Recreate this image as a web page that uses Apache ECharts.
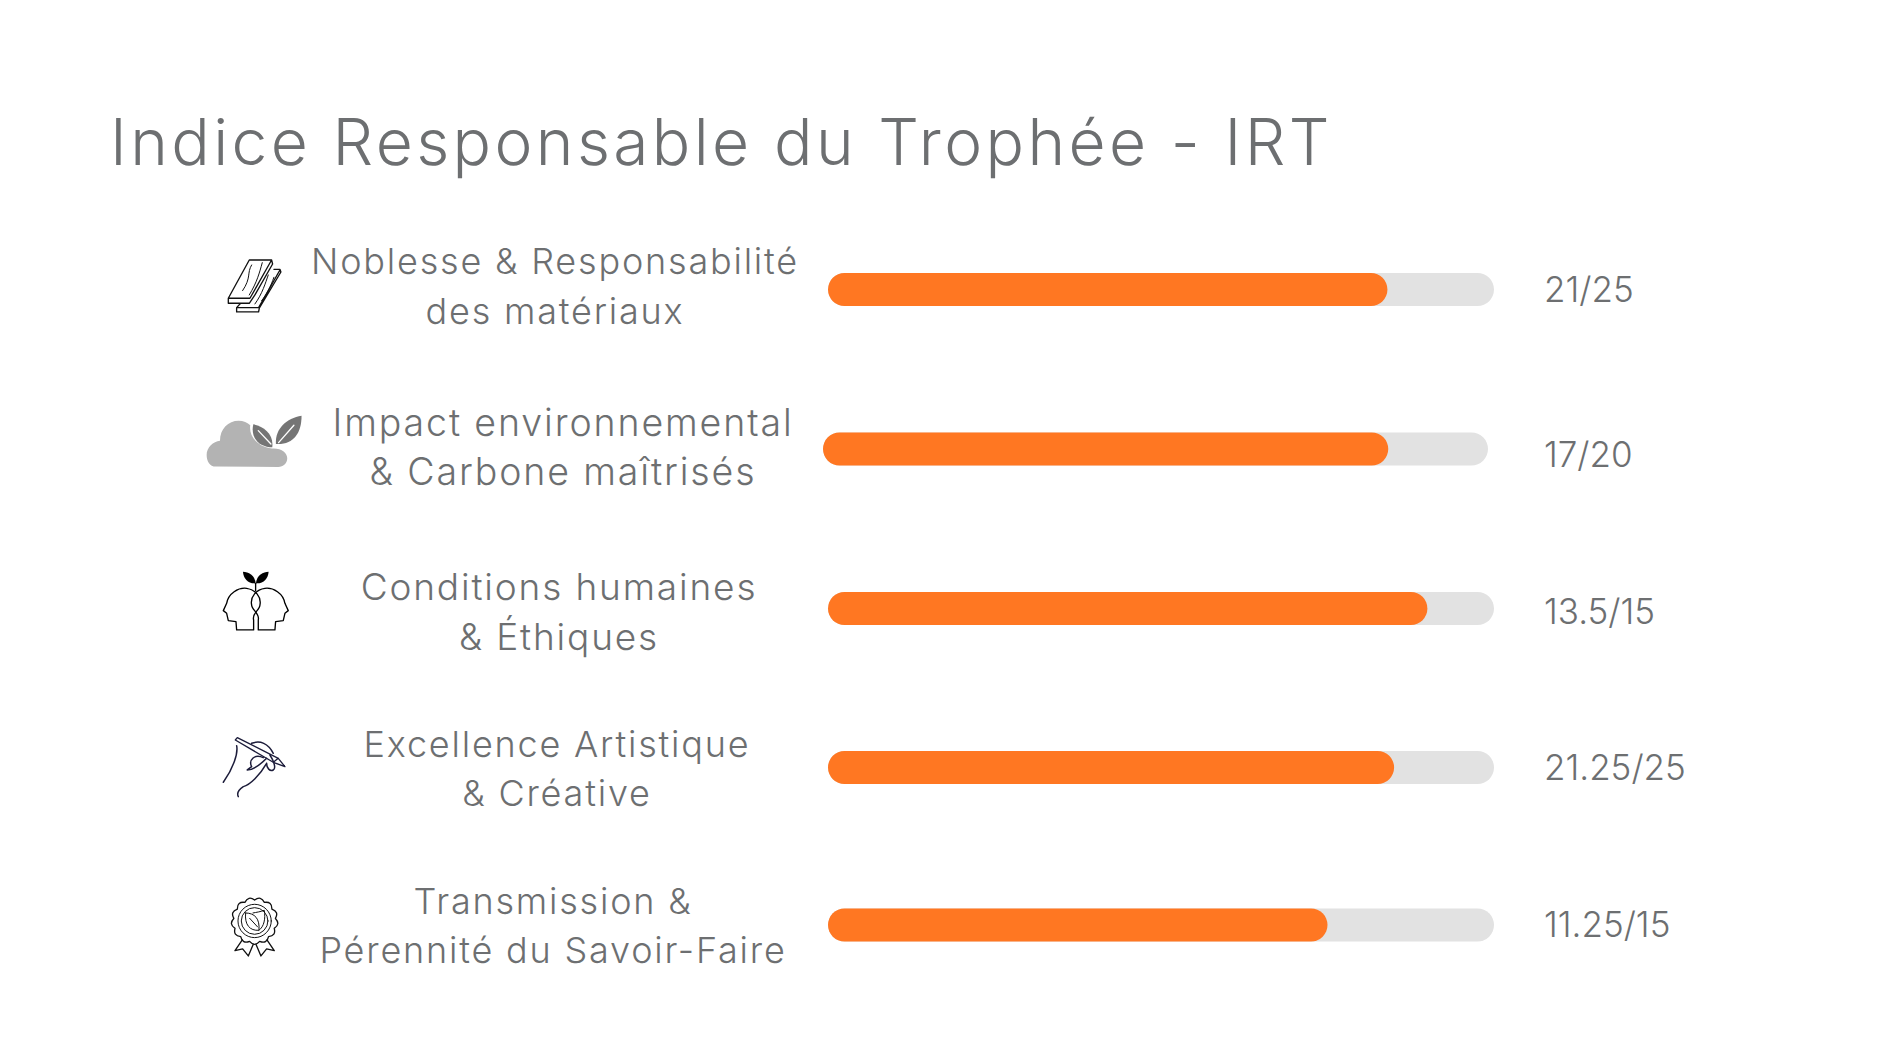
<!DOCTYPE html>
<html>
<head>
<meta charset="utf-8">
<style>
html,body{margin:0;padding:0;background:#fff}
#c{width:1890px;height:1063px}
#c svg text{letter-spacing:0.05em}
#c svg text[style*="64px"]{letter-spacing:0.053em}
#c svg text[style*="35px"]{letter-spacing:0}
</style>
<script src="https://cdn.jsdelivr.net/npm/echarts@6/dist/echarts.min.js"></script>
</head>
<body>
<div id="c"></div>
<script>
const titleText = 'Indice Responsable du Trophée - IRT';
const categories = [
  'Noblesse & Responsabilité\ndes matériaux',
  'Impact environnemental\n& Carbone maîtrisés',
  'Conditions humaines\n& Éthiques',
  'Excellence Artistique\n& Créative',
  'Transmission &\nPérennité du Savoir-Faire'
];
const scores = [21, 17, 13.5, 21.25, 11.25];
const maxima = [25, 20, 15, 25, 15];
const scoreLabels = ['21/25', '17/20', '13.5/15', '21.25/25', '11.25/15'];

const TEXT = '#6d6f71', ORANGE = '#ff7722', TRACK = '#e2e2e2', FONT = 'Inter';
const layoutRows = [
  {left: 828, top: 273, width: 666, labelX: 555, labelDy: -3.5, labelSize: 36, valueDy: -1},
  {left: 823, top: 432.5, width: 665, labelX: 563, labelDy: -2, labelSize: 37.5, valueDy: 5},
  {left: 828, top: 592, width: 666, labelX: 559, labelDy: 3, labelSize: 37, valueDy: 2},
  {left: 828, top: 751, width: 666, labelX: 557, labelDy: 1, labelSize: 36, valueDy: -1},
  {left: 828, top: 908.5, width: 666, labelX: 553, labelDy: 0.5, labelSize: 36, valueDy: -1}
];
const BAR_H = 33;

const grid = [], xAxis = [], yAxis = [], series = [];
categories.forEach((name, i) => {
  const r = layoutRows[i];
  grid.push({left: r.left, top: r.top, width: r.width, height: BAR_H});
  xAxis.push({gridIndex: i, type: 'value', min: 0, max: maxima[i], show: false});
  yAxis.push({gridIndex: i, type: 'category', data: [name], show: false});
  series.push({
    type: 'bar', xAxisIndex: i, yAxisIndex: i, data: [maxima[i]], barWidth: BAR_H, barGap: '-100%',
    silent: true, animation: false,
    itemStyle: {color: TRACK, borderRadius: BAR_H / 2},
    label: {
      show: true, position: 'right', distance: 1544 - r.left - r.width,
      formatter: scoreLabels[i], offset: [0, r.valueDy],
      color: TEXT, fontFamily: FONT, fontWeight: 300, fontSize: 35
    }
  });
  series.push({
    type: 'bar', xAxisIndex: i, yAxisIndex: i, data: [scores[i]], barWidth: BAR_H, barGap: '-100%',
    silent: true, animation: false,
    itemStyle: {color: ORANGE, borderRadius: BAR_H / 2}
  });
});
// Category captions sit on their own axes so they can follow the reference's uneven vertical offsets.
categories.forEach((name, i) => {
  const r = layoutRows[i], g = grid.length;
  grid.push({left: r.left, top: r.top + r.labelDy, width: r.width, height: BAR_H});
  xAxis.push({gridIndex: g, type: 'value', min: 0, max: maxima[i], show: false});
  yAxis.push({
    gridIndex: g, type: 'category', data: [name],
    axisLine: {show: false}, axisTick: {show: false},
    axisLabel: {
      color: TEXT, fontFamily: FONT, fontWeight: 300, fontSize: r.labelSize, lineHeight: 49.5,
      align: 'center', margin: r.left - r.labelX, verticalAlign: 'middle'
    }
  });
});

// Decorative icons: paths are written in 3x local units, scaled to 1x.
let shapeId = 0;
const pathEl = (d, style) => {
  const name = 'iconPath' + (shapeId++);
  echarts.graphic.registerShape(name, echarts.graphic.extendPath(d, {}));
  return {type: name, shape: {}, style};
};
const icon = (x, y, children) => ({type: 'group', x, y, scaleX: 1 / 3, scaleY: 1 / 3, silent: true, children});
const line = (d, stroke, w) => pathEl(d, {fill: 'none', stroke, lineWidth: w, lineJoin: 'round', lineCap: 'round'});
const fillPath = (d, fill) => pathEl(d, {fill, stroke: 'none'});

// scalloped rosette outline for the badge
let scallop = '';
const lobes = 13, cx = 119, cy = 108;
for (let k = 0; k <= lobes; k++) {
  const a0 = -Math.PI / 2 + k * 2 * Math.PI / lobes;
  const px = cx + 63 * Math.cos(a0), py = cy + 63 * Math.sin(a0);
  if (k === 0) { scallop += 'M' + px.toFixed(1) + ' ' + py.toFixed(1); continue; }
  const am = a0 - Math.PI / lobes;
  scallop += 'Q' + (cx + 79 * Math.cos(am)).toFixed(1) + ' ' + (cy + 79 * Math.sin(am)).toFixed(1) + ' ' + px.toFixed(1) + ' ' + py.toFixed(1);
}

const icons = [
  icon(200, 240, [
    line('M148 60L215 60L150 175L85 175ZM85 175L85 190L148 190L165 165M215 60L218 72L165 165M222 88L240 88L243 96L178 205L176 216L110 216L110 203L122 190M110 203L176 203L240 90', '#111', 4),
    line('M155 75C140 100 155 112 128 152M187 68C178 100 172 125 148 165M205 105C196 130 188 160 165 192M222 112C212 140 200 165 185 182', '#111', 3)
  ]),
  icon(200, 400, [
    fillPath('M48 200C28 200 20 182 20 165C20 142 40 124 60 122C60 86 85 62 116 62C130 62 143 67 151 76C146 106 170 140 216 146C245 144 262 160 262 175C262 190 250 201 235 201Z', '#b3b3b3'),
    fillPath('M160 73C192 80 222 102 217 142C185 142 150 120 160 73Z', '#757575'),
    fillPath('M305 47C305 100 280 135 228 132C225 85 260 55 305 47Z', '#757575'),
    line('M175 92L213 132M282 76L236 128', '#fff', 4)
  ]),
  icon(210, 560, [
    fillPath('M99 35C115 35 135 45 137 70C115 72 100 55 99 35Z', '#000'),
    fillPath('M176 35C160 35 140 45 138 70C160 72 175 55 176 35Z', '#000'),
    line('M137 70L137 92', '#000', 4),
    line('M131 210L80 210L78 185L55 182L50 160L40 152L50 130C55 100 85 82 110 85C135 88 155 110 150 135C150 150 125 160 131 180Z', '#000', 4),
    line('M145 210L195 210L197 185L220 182L225 160L235 152L225 130C220 100 190 82 165 85C140 88 120 110 125 135C125 150 150 160 145 180Z', '#000', 4)
  ]),
  icon(210, 725, [
    line('M76 45L82 38L205 100L225 125L190 112ZM190 112L205 100', '#1c1c3a', 4),
    line('M80 62C85 85 70 130 40 172M125 55C150 45 175 55 190 85M160 98C135 85 115 105 125 125L112 135C130 135 150 120 170 100M170 115C170 130 180 140 190 135C200 130 190 105 180 90M170 115C150 150 120 180 100 185C85 195 80 205 85 215', '#1c1c3a', 4.5)
  ]),
  icon(215, 885, [
    line(scallop, '#111', 4),
    line('M169 108A50 50 0 1 1 69 108A50 50 0 1 1 169 108ZM159 108A40 40 0 1 1 79 108A40 40 0 1 1 159 108Z', '#111', 3),
    line('M82 165L60 197L83 192L100 213L115 178M156 165L178 197L155 192L138 213L123 178', '#111', 4),
    line('M92 84C120 84 135 102 132 136C105 138 88 120 92 84ZM114 84C125 82 138 80 148 76C152 100 148 125 132 136M104 100L128 126', '#111', 3)
  ])
];

const chart = echarts.init(document.getElementById('c'), null, {renderer: 'svg', width: 1890, height: 1063});
chart.setOption({
  animation: false,
  backgroundColor: '#fff',
  title: {
    text: titleText, left: 105, top: 104,
    textStyle: {color: TEXT, fontFamily: FONT, fontWeight: 300, fontSize: 64}
  },
  grid, xAxis, yAxis, series,
  graphic: icons
});
</script>
</body>
</html>
